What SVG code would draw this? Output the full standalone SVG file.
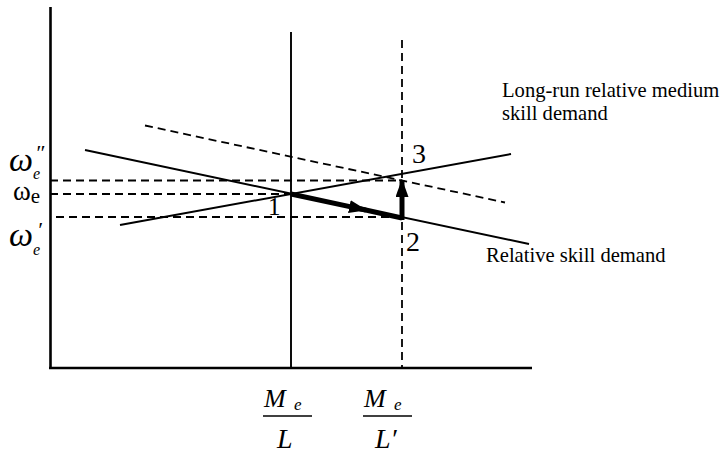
<svg xmlns="http://www.w3.org/2000/svg" width="728" height="453" viewBox="0 0 728 453">
<defs>
<style>
.ax{stroke:#000;stroke-width:2.6;fill:none}
.sl{stroke:#000;stroke-width:1.9;fill:none}
.ds{stroke:#000;stroke-width:1.8;fill:none;stroke-dasharray:8 5}
.th{stroke:#000;stroke-width:5;fill:none}
.t{font-family:"Liberation Serif","Times New Roman",serif;fill:#000}
.i{font-style:italic}
</style>
<marker id="ah" viewBox="0 0 18 13" refX="17" refY="6.5" markerWidth="18" markerHeight="13" markerUnits="userSpaceOnUse" orient="auto">
<path d="M0,0 L18,6.5 L0,13 Z" fill="#000"/>
</marker>
</defs>
<rect width="728" height="453" fill="#fff"/>
<g id="axes">
<line class="ax" x1="50.5" y1="7" x2="50.5" y2="369"/>
<line class="ax" x1="49" y1="368" x2="532" y2="368"/>
</g>
<g id="connectors">
<line class="sl" x1="291" y1="32" x2="291" y2="368"/>
<line class="ds" x1="402" y1="40" x2="402" y2="368"/>
<line class="ds" x1="50" y1="180.5" x2="402" y2="180.5"/>
<line class="ds" x1="50" y1="194" x2="291" y2="194"/>
<line class="ds" x1="56" y1="217" x2="402" y2="217"/>
<line class="sl" x1="85" y1="150" x2="529" y2="244"/>
<line class="sl" x1="120" y1="225" x2="511" y2="154"/>
<line class="ds" x1="145" y1="125.5" x2="505" y2="202.5"/>
<line class="th" x1="291" y1="194" x2="366" y2="210.1" marker-end="url(#ah)"/>
<line class="th" x1="360" y1="208.8" x2="402" y2="218"/>
<line class="th" x1="402" y1="220" x2="402" y2="180" marker-end="url(#ah)"/>
</g>
<g id="point1"><text class="t" x="268" y="215" font-size="25">1</text></g>
<g id="point2"><text class="t" x="406" y="251" font-size="28">2</text></g>
<g id="point3"><text class="t" x="412" y="163" font-size="28">3</text></g>
<g id="label-longrun">
<text class="t" x="502" y="97" font-size="20.6">Long-run relative medium</text>
<text class="t" x="502" y="120" font-size="20.6">skill demand</text>
</g>
<g id="label-demand"><text class="t" x="486" y="262" font-size="20.6">Relative skill demand</text></g>
<g id="y-omega2">
<text class="t i" font-size="34"><tspan x="9" y="171">ω</tspan><tspan x="35" y="160" font-size="22">″</tspan><tspan x="33" y="179" font-size="16">e</tspan></text>
</g>
<g id="y-omega">
<text class="t" x="13" y="200" font-size="27">ω<tspan font-size="21" dy="3">e</tspan></text>
</g>
<g id="y-omega1">
<text class="t i" font-size="34"><tspan x="9" y="246">ω</tspan><tspan x="37" y="237" font-size="22">′</tspan><tspan x="33" y="255" font-size="16">e</tspan></text>
</g>
<g id="x-label1">
<text class="t i" x="264" y="407" font-size="26">M</text>
<text class="t i" x="294" y="410" font-size="17">e</text>
<line x1="263" y1="416" x2="312" y2="416" stroke="#000" stroke-width="1.6"/>
<text class="t i" x="277" y="448" font-size="28">L</text>
</g>
<g id="x-label2">
<text class="t i" x="364" y="407" font-size="26">M</text>
<text class="t i" x="394" y="410" font-size="17">e</text>
<line x1="363" y1="416" x2="412" y2="416" stroke="#000" stroke-width="1.6"/>
<text class="t i" x="375" y="448" font-size="28">L′</text>
</g>
</svg>
